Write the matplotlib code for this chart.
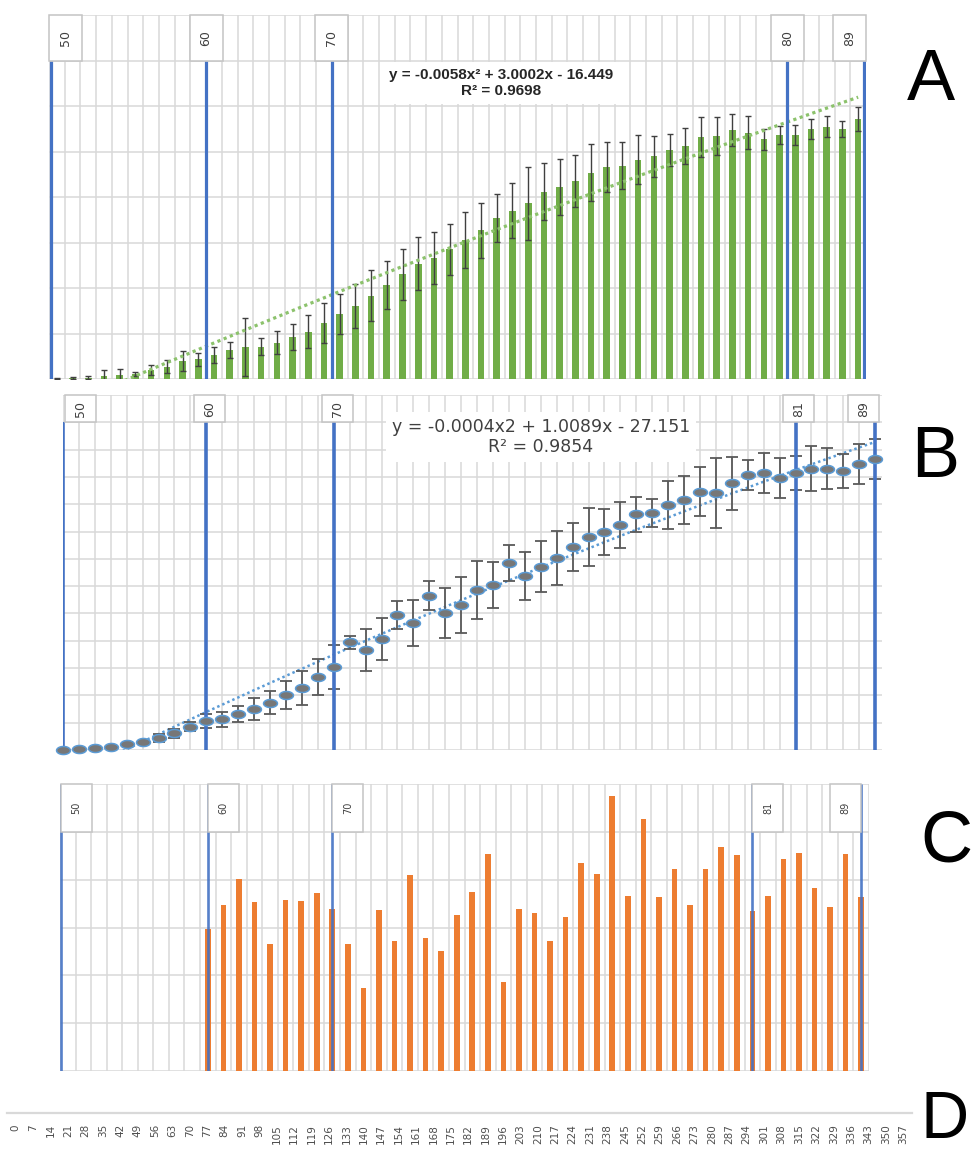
import numpy as np
import matplotlib
matplotlib.use("Agg")
import matplotlib.pyplot as plt
from matplotlib.patches import Rectangle
from matplotlib.path import Path

# ---------------- data ----------------
DAYS = [0, 7, 14, 21, 28, 35, 42, 49, 56, 63, 70, 77, 84, 91, 98, 105, 112, 119,
        126, 133, 140, 147, 154, 161, 168, 175, 182, 189, 196, 203, 210, 217, 224,
        231, 238, 245, 252, 259, 266, 273, 280, 287, 294, 301, 308, 315, 322, 329,
        336, 343, 350, 357]
DAY_LABELS = [str(d) for d in DAYS]

A_VALUES = [0.1, 0.3, 0.6, 1.5, 1.8, 2.2, 4.0, 5.4, 8.0, 8.6, 10.5, 12.7, 14.2,
            14.2, 16.0, 18.3, 20.8, 24.8, 28.4, 32.1, 36.6, 41.3, 46.0, 50.6,
            53.3, 57.0, 61.1, 65.3, 70.9, 74.0, 77.2, 82.3, 84.5, 87.0, 90.7,
            93.3, 93.8, 96.3, 98.0, 100.7, 102.6, 106.2, 106.8, 109.5, 108.3,
            105.4, 107.3, 107.3, 109.9, 110.9, 109.9, 114.2]
A_ERR = [0.3, 0.4, 0.5, 2.5, 2.5, 1.0, 2.3, 2.9, 4.4, 3.0, 3.4, 3.4, 12.8, 3.8,
         4.9, 5.7, 7.3, 8.8, 8.8, 9.8, 11.2, 10.5, 11.2, 11.6, 11.4, 11.2, 12.5,
         12.2, 10.6, 12.0, 16.0, 12.5, 12.2, 11.3, 12.6, 11.0, 10.4, 10.8, 9.0,
         7.2, 7.9, 8.8, 8.2, 6.9, 7.3, 4.6, 4.1, 4.4, 4.2, 4.6, 3.7, 5.3]
A_TREND = [-0.0058, 3.0002, -16.449]
A_TREND_TEXT = "y = -0.0058x\u00b2 + 3.0002x - 16.449\nR\u00b2 = 0.9698"
A_MARK_LABELS = ["50", "60", "70", "80", "89"]
A_MARK_POS = [0.63, 10.5, 18.5, 47.5, 52.4]

B_VALUES = [0.0, 0.6, 1.6, 3.0, 5.2, 7.0, 11.3, 15.3, 21.3, 26.5, 28.1, 33.0,
            37.3, 43.3, 50.4, 57.0, 66.6, 76.3, 98.6, 91.6, 101.3, 123.6, 116.0,
            141.3, 125.7, 132.7, 146.5, 151.0, 171.5, 159.3, 167.8, 175.5, 186.1,
            195.3, 199.9, 206.0, 215.8, 216.7, 224.3, 228.9, 236.5, 235.6, 244.2,
            251.8, 253.3, 248.7, 253.3, 257.3, 257.3, 255.4, 261.8, 266.1]
B_ERR = [0.0, 0.3, 0.5, 0.8, 1.0, 1.5, 3.7, 4.3, 4.3, 6.1, 6.7, 7.2, 10.0, 10.3,
         12.8, 15.6, 16.5, 20.1, 6.0, 19.2, 19.2, 12.8, 21.0, 13.3, 22.9, 25.6,
         26.5, 21.0, 16.5, 22.0, 23.3, 24.7, 22.0, 26.5, 21.0, 21.0, 16.2, 12.8,
         22.4, 22.0, 22.4, 32.0, 24.4, 13.5, 18.3, 18.3, 15.6, 20.6, 18.8, 15.6,
         18.0, 18.3]
B_TREND = [-0.0004, 1.0089, -27.151]
B_TREND_TEXT = "y = -0.0004x2 + 1.0089x - 27.151\nR\u00b2 = 0.9854"
B_MARK_LABELS = ["50", "60", "70", "81", "89"]
B_MARK_POS = [0, 63, 119, 322, 357]

C_VALUES = [0, 0, 0, 0, 0, 0, 0, 0, 0,
            29.6, 34.7, 40.1, 35.4, 26.6, 35.8, 35.6, 37.2, 33.8, 26.6, 17.4,
            33.7, 27.2, 41.0, 27.9, 25.1, 32.6, 37.4, 45.3, 18.6, 33.8, 33.1,
            27.2, 32.2, 43.5, 41.2, 57.4, 36.5, 52.7, 36.3, 42.2, 34.7, 42.2,
            46.9, 45.1, 33.5, 36.5, 44.3, 45.6, 38.3, 34.2, 45.3, 36.3]
C_MARK_LABELS = ["50", "60", "70", "81", "89"]
C_MARK_POS = [-0.45, 9, 17, 44, 51]

PANEL_LETTERS = ["A", "B", "C", "D"]

# ---------------- figure ----------------
W, H = 972, 1153
fig = plt.figure(figsize=(W / 100, H / 100), dpi=100)
fig.patch.set_facecolor("white")


def rect(l, t, r, b):
    return [l / W, 1 - b / H, (r - l) / W, (b - t) / H]


GRID = "#D9D9D9"
BLUE = "#4472C4"
BOXEDGE = "#C4C4C4"


def style(ax):
    for s in ax.spines.values():
        s.set_visible(False)
    ax.tick_params(length=0, labelbottom=False, labelleft=False)
    ax.grid(True, color=GRID, lw=1.1)
    ax.set_axisbelow(True)


def label_box(ax, x0, w, y0, h, text, fs):
    ax.add_patch(Rectangle((x0, y0), w, h, fc="white", ec=BOXEDGE, lw=1.1,
                           zorder=8, clip_on=False))
    ax.text(x0 + w / 2, y0 + h / 2, text, rotation=90, ha="center",
            va="center", fontsize=fs, color="#404040", zorder=9)


# ---------- Panel A ----------
axA = fig.add_axes(rect(49, 15, 866, 379))
style(axA)
xa = np.arange(1, len(A_VALUES) + 1)
axA.bar(xa, A_VALUES, width=0.42, color="#70AD47", zorder=2)
axA.errorbar(xa, A_VALUES, yerr=A_ERR, fmt="none", ecolor="#404040",
             elinewidth=1.0, capsize=2.4, capthick=1.0, zorder=3)
xt = np.linspace(1, 52, 300)
axA.plot(xt, np.polyval(A_TREND, xt), color="#8CC26C", lw=2.3,
         ls=(0, (1, 1.1)), zorder=4)
axA.set_xlim(0.5, 52.5)
axA.set_ylim(0, 160)
axA.set_xticks(np.arange(0.5, 53, 1))
axA.set_yticks(np.arange(0, 161, 20))
axA.vlines(A_MARK_POS, 0, 140, color=BLUE, lw=2.3, zorder=5)
wA = 2.1
for p, lab in zip(A_MARK_POS, A_MARK_LABELS):
    c = min(max(p, 0.5 + wA / 2), 52.5 - wA / 2)
    label_box(axA, c - wA / 2, wA, 140, 20, lab, 9)

# ---------- Panel B ----------
axB = fig.add_axes(rect(63, 395, 882, 750))
style(axB)
axB.set_xlim(0, 360)
axB.set_ylim(0, 325)
axB.set_xticks(DAYS)
axB.set_yticks(np.arange(0, 326, 25))
axB.vlines(B_MARK_POS, 0, 300, color=BLUE, lw=2.6, zorder=5)
xtb = np.linspace(0, 357, 400)
axB.plot(xtb, np.polyval(B_TREND, xtb), color="#5B9BD5", lw=1.8,
         ls=(0, (1, 1.2)), zorder=3)
axB.errorbar(DAYS, B_VALUES, yerr=B_ERR, fmt="none", ecolor="#595959",
             elinewidth=1.3, capsize=4.2, capthick=1.3, zorder=4)
t = np.linspace(0, 2 * np.pi, 41)
ellipse = Path(np.column_stack([np.cos(t), 0.58 * np.sin(t)]), closed=True)
axB.plot(DAYS, B_VALUES, ls="none", marker=ellipse, ms=10, mfc="#777777",
         mec="#5B9BD5", mew=1.1, zorder=6, clip_on=False)
wB = 13.6
for p, lab in zip(B_MARK_POS, B_MARK_LABELS):
    c = min(max(p + 1.5, wB / 2 + 0.9), 360 - wB / 2 - 1.2)
    label_box(axB, c - wB / 2, wB, 300, 25, lab, 9)

# ---------- Panel C ----------
axC = fig.add_axes(rect(60, 784, 869, 1071))
style(axC)
xc = np.arange(len(C_VALUES))
axC.bar(xc, C_VALUES, width=0.36, color="#ED7D31", zorder=2)
axC.set_xlim(-0.5, 51.5)
axC.set_ylim(0, 60)
axC.set_xticks(np.arange(-0.5, 52, 1))
axC.set_yticks(np.arange(0, 61, 10))
axC.vlines(C_MARK_POS, 0, 60, color=BLUE, lw=1.9, alpha=0.9, zorder=5)
wC = 2.0
for p, lab in zip(C_MARK_POS, C_MARK_LABELS):
    x0 = p if p + wC <= 51.5 else p - wC
    label_box(axC, x0, wC, 50, 10, lab, 7)

# ---------- Panel D (shared day axis) ----------
axD = fig.add_axes(rect(7, 1100, 912, 1113))
axD.patch.set_visible(False)
for k, s in axD.spines.items():
    s.set_visible(k == "bottom")
axD.spines["bottom"].set_color(GRID)
axD.spines["bottom"].set_linewidth(1.6)
axD.set_xlim(-0.5, 51.5)
axD.set_xticks(np.arange(len(DAY_LABELS)))
axD.set_xticklabels(DAY_LABELS, rotation=90, fontsize=7.5, color="#4D4D4D")
axD.set_yticks([])
axD.tick_params(axis="x", length=0, pad=8)

# ---------- trend equations ----------
box = dict(fc="white", ec="none", boxstyle="square,pad=0.35")
fig.text(501 / W, 1 - 83 / H, A_TREND_TEXT, ha="center", va="center",
         multialignment="center", fontsize=11, fontweight="bold",
         family="Liberation Sans", color="#262626", linespacing=1.25, bbox=box)
fig.text(541 / W, 1 - 437 / H, B_TREND_TEXT, ha="center", va="center",
         multialignment="center", fontsize=12.5, family="DejaVu Sans",
         color="#404040", linespacing=1.1, bbox=box)

# ---------- panel letters ----------
letter_specs = [(931, 100, "baseline", 52), (935, 477, "baseline", 52),
                (946, 861, "baseline", 52), (945, 1152, "bottom", 48)]
for (lx, ly, va, fs), letter in zip(letter_specs, PANEL_LETTERS):
    fig.text(lx / W, 1 - ly / H, letter, ha="center", va=va,
             fontsize=fs, family="Liberation Sans", color="black")

fig.savefig("out.png", dpi=100)
